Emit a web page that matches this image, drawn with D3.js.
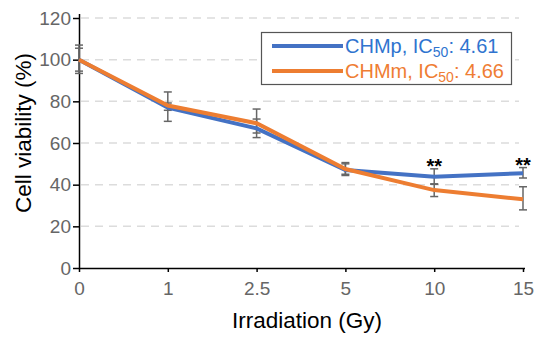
<!DOCTYPE html>
<html>
<head>
<meta charset="utf-8">
<script src="https://cdn.jsdelivr.net/npm/d3@7"></script>
<style>
  body { margin: 0; background: #fff; }
  svg { font-family: Arial, "Liberation Sans", sans-serif; }
  .tick text { fill: #666; font-size: 19px; }
</style>
</head>
<body>
<div id="chart"></div>
<script>
// data
var doses = ["0", "1", "2.5", "5", "10", "15"];
var yTicks = [0, 20, 40, 60, 80, 100, 120];

var chmpMean = [100, 77, 67, 47, 43.8, 45.5];
var chmpLow  = [94.5, 70.4, 62.6, 44.4, 40.2, 43.2];
var chmpHigh = [105.5, 79.2, 71.5, 50.6, 47.6, 48.2];

var chmmMean = [100, 78, 69.5, 47.5, 37.4, 33];
var chmmLow  = [93.4, 75.7, 64.8, 45, 34.3, 27.9];
var chmmHigh = [107, 84.5, 76.3, 50, 40.4, 39];

var stars = ["", "", "", "", "**", "**"];

var width = 550, height = 345;
var margin = { left: 79, right: 27, top: 18, bottom: 77 };

var svg = d3.select('#chart')
  .append('svg')
    .attr('width', width)
    .attr('height', height);

var x = d3.scalePoint()
  .domain(doses)
  .range([margin.left, width - margin.right]);

var y = d3.scaleLinear()
  .domain([0, 120])
  .range([height - margin.bottom, margin.top]);

// dashed grid
svg.append('g')
  .selectAll('line')
  .data(yTicks.slice(1))
  .enter().append('line')
    .attr('x1', margin.left + 2)
    .attr('x2', width - margin.right - 4)
    .attr('y1', function (d) { return y(d); })
    .attr('y2', function (d) { return y(d); })
    .attr('stroke', '#dcdcdc')
    .attr('stroke-width', 1.5)
    .attr('stroke-dasharray', '8,6');

// axes
var yAxis = svg.append('g')
  .attr('transform', 'translate(' + margin.left + ',0)')
  .call(d3.axisLeft(y).tickValues(yTicks).tickSize(6).tickPadding(2).tickSizeOuter(0));
yAxis.select('.domain').attr('stroke', '#000').attr('stroke-width', 1.5)
  .attr('d', 'M0.5,' + (margin.top - 4) + 'V' + (y(0) + 0.5));
yAxis.selectAll('.tick line').attr('stroke', '#000').attr('stroke-width', 1.5);

var xAxis = svg.append('g')
  .attr('transform', 'translate(0,' + y(0) + ')')
  .call(d3.axisBottom(x).tickSize(4).tickPadding(7).tickSizeOuter(0));
xAxis.select('.domain').attr('stroke', '#000').attr('stroke-width', 1.5)
  .attr('d', 'M' + margin.left + ',0.5H' + (width - margin.right + 2));
xAxis.selectAll('.tick line').attr('stroke', '#000').attr('stroke-width', 1.5);
xAxis.selectAll('.tick text').attr('dy', '0.85em');

// axis titles
svg.append('text')
  .attr('x', 307)
  .attr('y', 328)
  .attr('text-anchor', 'middle')
  .style('font-size', '22.5px')
  .text('Irradiation (Gy)');

svg.append('text')
  .attr('transform', 'translate(31,133) rotate(-90)')
  .attr('text-anchor', 'middle')
  .style('font-size', '22.5px')
  .text('Cell viability (%)');

var series = [
  { name: 'CHMp', ic: '4.61', color: '#4472c4', text: '#2f74cf', mean: chmpMean, low: chmpLow, high: chmpHigh },
  { name: 'CHMm', ic: '4.66', color: '#ed7d31', text: '#ef7d33', mean: chmmMean, low: chmmLow, high: chmmHigh }
];

var line = d3.line()
  .x(function (d, i) { return x(doses[i]); })
  .y(function (d) { return y(d); });

// error bars
series.forEach(function (s) {
  var g = svg.append('g').attr('stroke', '#666').attr('stroke-width', 1.5).attr('fill', 'none');
  doses.forEach(function (dose, i) {
    var cx = x(dose);
    g.append('line').attr('x1', cx).attr('x2', cx)
      .attr('y1', y(s.low[i])).attr('y2', y(s.high[i]));
    [s.low[i], s.high[i]].forEach(function (v) {
      g.append('line').attr('x1', cx - 4).attr('x2', cx + 4)
        .attr('y1', y(v)).attr('y2', y(v));
    });
  });
});

// lines
series.forEach(function (s) {
  svg.append('path')
    .attr('d', line(s.mean))
    .attr('fill', 'none')
    .attr('stroke', s.color)
    .attr('stroke-width', 4);
});

// significance marks
svg.append('g')
  .selectAll('text')
  .data(stars)
  .enter().append('text')
    .attr('x', function (d, i) { return x(doses[i]); })
    .attr('y', function (d, i) { return y(chmpHigh[i]) + 4; })
    .attr('text-anchor', 'middle')
    .style('font-size', '20px')
    .style('font-weight', 'bold')
    .text(function (d) { return d; });

// legend
var legend = svg.append('g').attr('transform', 'translate(261,32)');
legend.append('rect')
  .attr('x', 0.5).attr('y', 0.5)
  .attr('width', 250).attr('height', 52)
  .attr('fill', '#fff')
  .attr('stroke', '#555')
  .attr('stroke-width', 1.2);

series.forEach(function (s, i) {
  var ly = 14 + i * 25;
  legend.append('line')
    .attr('x1', 11).attr('x2', 82)
    .attr('y1', ly).attr('y2', ly)
    .attr('stroke', s.color)
    .attr('stroke-width', 4);
  var t = legend.append('text')
    .attr('x', 84)
    .attr('y', ly + 7)
    .attr('fill', s.text)
    .style('font-size', '20px');
  t.append('tspan').text(s.name + ', IC');
  t.append('tspan').attr('dy', 4).style('font-size', '14px').text('50');
  t.append('tspan').attr('dy', -4).text(': ' + s.ic);
});
</script>
</body>
</html>
